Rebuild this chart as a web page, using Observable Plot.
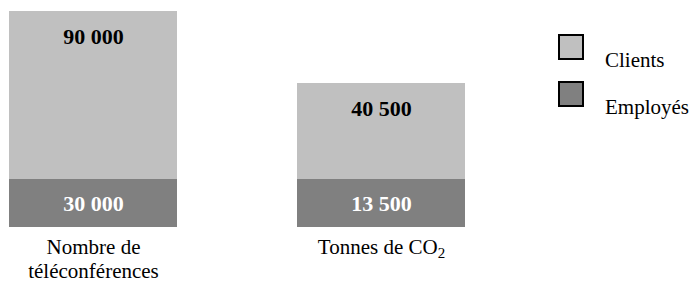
<!DOCTYPE html>
<html>
<head>
<meta charset="utf-8">
<script src="https://cdn.jsdelivr.net/npm/d3@7"></script>
<script src="https://cdn.jsdelivr.net/npm/@observablehq/plot@0.6"></script>
<style>
  body { margin: 0; background: #fff; }
  #wrap { position: relative; width: 694px; height: 283px; font-family: "Liberation Serif", "Times New Roman", serif; }
  #legend { position: absolute; left: 0; top: 0; font-size: 21px; color: #000; }
  .sw { position: absolute; width: 22px; height: 22px; border: 2px solid #000; }
  .lb { position: absolute; line-height: 1; white-space: nowrap; }
</style>
</head>
<body>
<div id="wrap"><div id="legend"></div></div>
<script>
// ---- data ----
const categories = ["Nombre de\ntéléconférences", "Tonnes de CO₂"];
const series = ["Employés", "Clients"];
const employes = [30000, 13500];
const clients = [90000, 40500];
// drawn heights as they appear in the picture (schematic, not to scale), relative units
const employesHeight = [1, 1];
const clientsHeight = [3.5, 2];
const colors = ["#808080", "#c0c0c0"];
const legendOrder = ["Clients", "Employés"];

const rows = [];
categories.forEach((c, i) => {
  rows.push({cat: c, serie: series[0], value: employes[i], h: employesHeight[i]});
  rows.push({cat: c, serie: series[1], value: clients[i], h: clientsHeight[i]});
});
const fmt = v => d3.format(",")(v).replace(/,/g, " ");

const chart = Plot.plot({
  width: 694,
  height: 283,
  marginTop: 11,
  marginBottom: 56,
  marginLeft: 9,
  marginRight: 229,
  style: {fontFamily: "'Liberation Serif', 'Times New Roman', serif", background: "#fff", overflow: "visible"},
  x: {domain: categories, paddingInner: 120 / 288, paddingOuter: 0, label: null},
  y: {domain: [0, 4.5], axis: null},
  color: {domain: series, range: colors},
  marks: [
    Plot.barY(rows, {x: "cat", y: "h", fill: "serie", z: "serie"}),
    Plot.text(rows, Plot.stackY({
      x: "cat", y: "h", z: "serie",
      text: d => d.serie === series[0] ? fmt(d.value) : null,
      fill: "#fff", fontSize: 22, fontWeight: "bold"
    })),
    Plot.text(rows, Plot.stackY2({
      x: "cat", y: "h", z: "serie",
      text: d => d.serie === series[1] ? fmt(d.value) : null,
      fill: "#000", fontSize: 22, fontWeight: "bold", dy: 25
    })),
    Plot.axisX({tickSize: 0, tickPadding: 10, fontSize: 21, lineHeight: 1.12, label: null, fill: "#000"})
  ]
});
document.getElementById("wrap").prepend(chart);

// subscript "2" in CO₂ drawn as a smaller, lowered digit
d3.select(chart).selectAll("text").each(function() {
  const t = d3.select(this);
  if (this.childElementCount === 0 && this.textContent.includes("₂")) {
    const parts = this.textContent.split("₂");
    this.textContent = parts[0];
    t.append("tspan").attr("font-size", 15).attr("dy", 4).text("2");
  }
});

// legend
const lg = document.getElementById("legend");
const swTops = [34, 81];
const lbTops = [50, 97];
legendOrder.forEach((s, i) => {
  const sw = document.createElement("div");
  sw.className = "sw";
  sw.style.left = "558px";
  sw.style.top = swTops[i] + "px";
  sw.style.background = colors[series.indexOf(s)];
  lg.appendChild(sw);
  const lb = document.createElement("div");
  lb.className = "lb";
  lb.style.left = "605px";
  lb.style.top = lbTops[i] + "px";
  lb.textContent = s;
  lg.appendChild(lb);
});
</script>
</body>
</html>
